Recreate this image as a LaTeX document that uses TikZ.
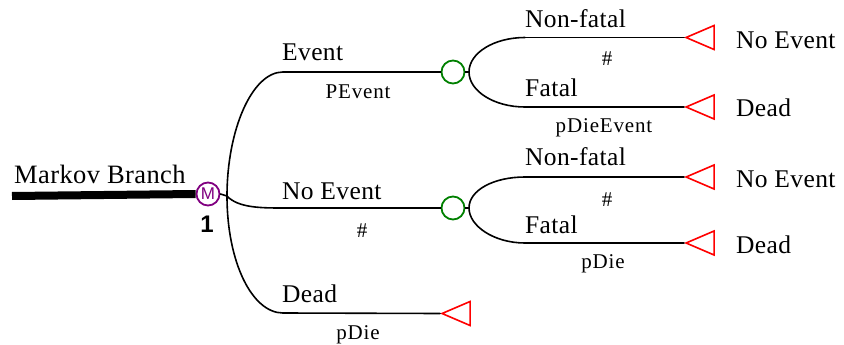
\documentclass[tikz,border=0pt]{standalone}
\usepackage{fontspec}
\setmainfont{Liberation Serif}
\newfontfamily\labelfont[LetterSpace=1.5]{Liberation Serif}
\newfontfamily\probfont[LetterSpace=4]{Liberation Serif}
\newfontfamily\numfont{Liberation Sans}
\usetikzlibrary{shapes.geometric}
\definecolor{chancegreen}{RGB}{0,128,0}
\definecolor{markovpurple}{RGB}{128,0,128}
\tikzset{
  branch/.style={line width=1.6pt, line cap=round},
  chance/.style={circle, draw=chancegreen, line width=1.8pt, minimum size=23pt, inner sep=0pt},
  markov/.style={circle, draw=markovpurple, line width=1.8pt, minimum size=23pt, inner sep=0pt,
    text=markovpurple, font=\numfont\fontsize{17}{17}\selectfont},
  term/.style={isosceles triangle, shape border rotate=180, draw=red, line width=1.6pt,
    isosceles triangle stretches, minimum width=24pt, minimum height=28pt, inner sep=0pt, anchor=apex},
  lbl/.style={anchor=base west, inner sep=0pt, font=\labelfont\fontsize{25.5}{28}\selectfont},
  prob/.style={anchor=base, inner sep=0pt, font=\probfont\fontsize{21}{24}\selectfont},
}
\begin{document}
\begin{tikzpicture}[x=1pt,y=-1pt]
\useasboundingbox (0,0) rectangle (844,345);

% Markov root
\coordinate (root) at (12,196);
\node[markov] (mk) at (208,194) {M};
\draw[line width=8pt] (root) -- (mk.west);
\node[lbl, font=\labelfont\fontsize{26.5}{28}\selectfont] (rootlbl) at (14,183) {Markov Branch};
\node[inner sep=0pt, font=\numfont\bfseries\fontsize{24}{24}\selectfont] (mknum) at (207,224) {1};

% first-level branches
\coordinate (fork) at (227,196);
\coordinate (evS) at (283,72);
\coordinate (neS) at (283,208);
\coordinate (dS) at (283,313);
\node[chance] (c1) at (453,72) {};
\node[chance] (c2) at (453,208) {};
\node[term] (t0) at (440,313.5) {};

\draw[branch] (mk.east) -- (fork);
\draw[branch] (evS) .. controls (252,72) and (227,130) .. (fork)
              .. controls (227,262) and (252,313) .. (dS);
\draw[branch] (fork) .. controls (238,208) and (262,208) .. (neS);
\draw[branch] (evS) -- (c1.west);
\draw[branch] (neS) -- (c2.west);
\draw[branch] (dS) -- (t0.apex);

\node[lbl] (evL) at (282,61) {Event};
\node[prob] (evP) at (358,99) {PEvent};
\node[lbl] (neL) at (282,199) {No Event};
\node[prob] (neP) at (362,237) {\#};
\node[lbl] (dL) at (282,302) {Dead};
\node[prob] (dP) at (358,339) {pDie};

% subtree after Event
\coordinate (a1) at (525,37.5);
\coordinate (a2) at (525,107);
\node[term] (t1) at (684,37.5) {};
\node[term] (t2) at (684,107) {};
\draw[branch] (c1.east) -- (469,72);
\draw[branch] (a1) .. controls (494,37.5) and (469,53) .. (469,72)
              .. controls (469,91) and (494,107) .. (a2);
\draw[branch] (a1) -- (t1.apex);
\draw[branch] (a2) -- (t2.apex);
\node[lbl] (a1L) at (525,28) {Non-fatal};
\node[prob] (a1P) at (607,66) {\#};
\node[lbl] (a2L) at (525,96) {Fatal};
\node[prob] (a2P) at (604,132) {pDieEvent};
\node[lbl] (t1L) at (736,49) {No Event};
\node[lbl] (t2L) at (736,117) {Dead};

% subtree after No Event
\coordinate (b1) at (525,177);
\coordinate (b2) at (525,243);
\node[term] (t3) at (684,177) {};
\node[term] (t4) at (684,243) {};
\draw[branch] (c2.east) -- (469,208);
\draw[branch] (b1) .. controls (494,177) and (469,190) .. (469,208)
              .. controls (469,226) and (494,243) .. (b2);
\draw[branch] (b1) -- (t3.apex);
\draw[branch] (b2) -- (t4.apex);
\node[lbl] (b1L) at (525,165) {Non-fatal};
\node[prob] (b1P) at (607,206) {\#};
\node[lbl] (b2L) at (525,233) {Fatal};
\node[prob] (b2P) at (603,268) {pDie};
\node[lbl] (t3L) at (736,187) {No Event};
\node[lbl] (t4L) at (736,253) {Dead};
\end{tikzpicture}
\end{document}
